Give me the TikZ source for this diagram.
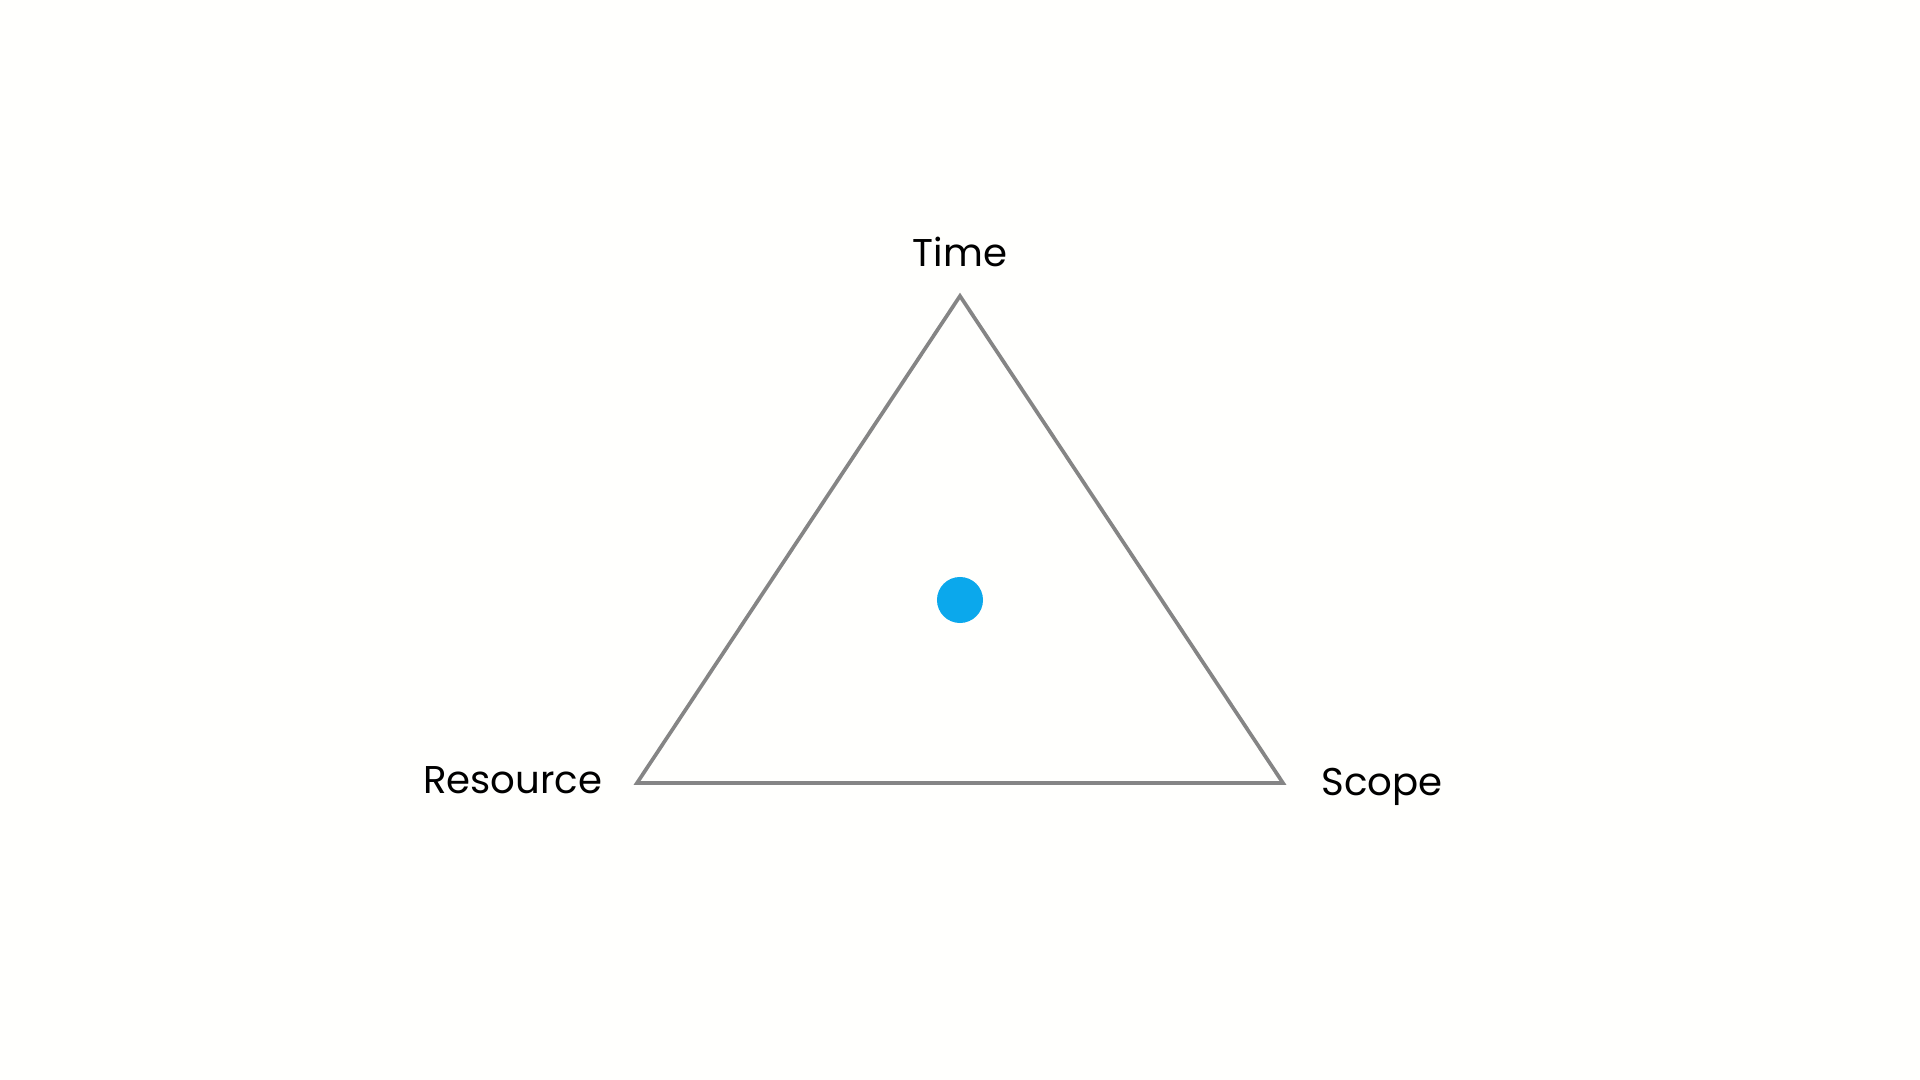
\documentclass[tikz,border=0pt]{standalone}
\usepackage{fontspec}
\setmainfont{Poppins}
\usepackage{tikz}
\usetikzlibrary{positioning}
\definecolor{edgegray}{HTML}{858585}
\definecolor{dotblue}{HTML}{0BA8EC}
\definecolor{paper}{HTML}{FFFFFD}

\begin{document}
\begin{tikzpicture}[x=0.01cm, y=-0.01cm,
    corner/.style={font=\fontsize{11pt}{13pt}\selectfont, text=black, inner sep=0pt},
    side/.style={draw=edgegray, line width=1.05pt, line join=miter}]
    \fill[paper] (0,0) rectangle (1920,1080);
    \useasboundingbox (0,0) rectangle (1920,1080);
    \coordinate (top) at (960,296);
    \coordinate (res) at (637,783);
    \coordinate (sco) at (1283,783);
    \node[circle, fill=dotblue, inner sep=0pt, minimum size=0.46cm] (dot) at (960,600) {};
    \node[corner, anchor=base] (time) at (960,267) {Time};
    \node[corner, anchor=base east] (resource) at (603,794) {Resource};
    \node[corner, anchor=base west] (scope) at (1321,796) {Scope};

    \draw[side] (top) -- (res) -- (sco) -- cycle;
\end{tikzpicture}
\end{document}
